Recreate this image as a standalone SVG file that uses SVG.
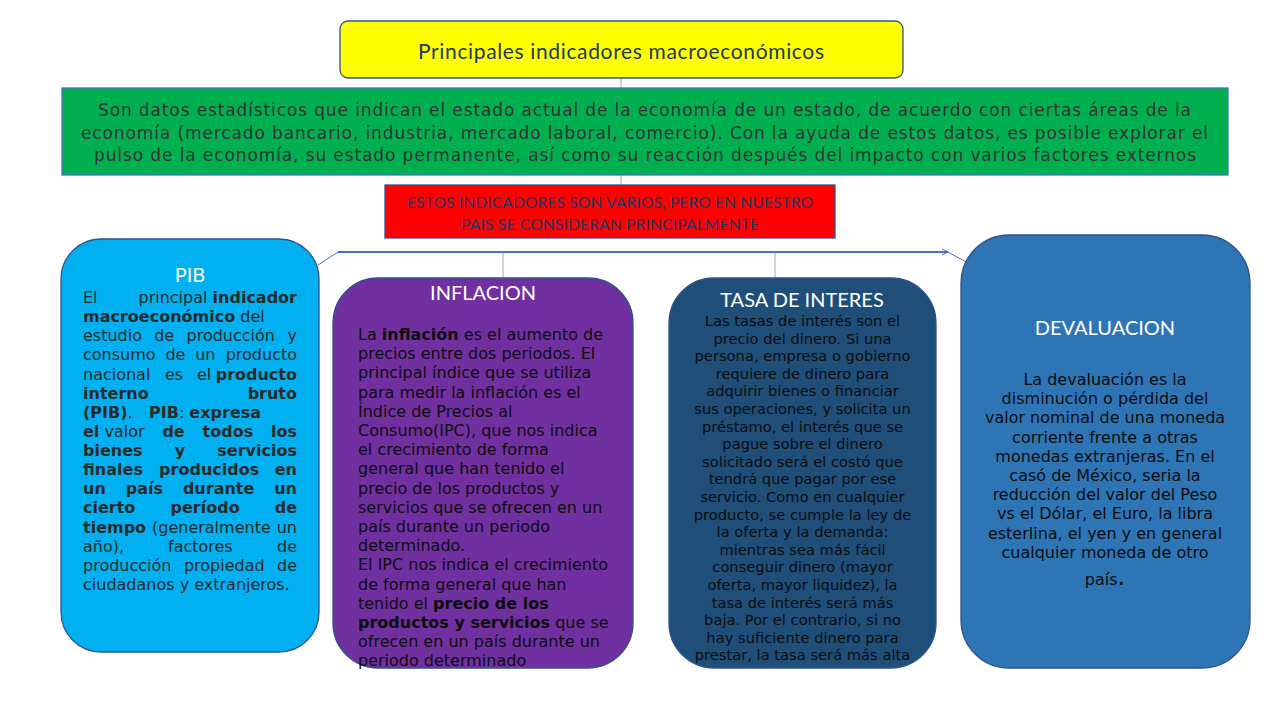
<svg xmlns="http://www.w3.org/2000/svg" width="1280" height="720" viewBox="0 0 1280 720">
<defs>
<style>
.box{stroke:#2F528F;stroke-width:1.3}
.ttl{font-family:Lato,"Liberation Sans",sans-serif;fill:#FFFFFF;font-size:20px;text-anchor:middle}
.nav{font-family:Lato,"Liberation Sans",sans-serif;fill:#203864;text-anchor:middle}
.dv{font-family:"DejaVu Sans",sans-serif;font-size:16px}
.pib{fill:#2a2a2a}
.blk{fill:#0d0d0d}
.e{text-anchor:end}
.m{text-anchor:middle}
b,.b{font-weight:bold}
.con{stroke:#4472C4;fill:none}
.thin{stroke:#9AA8C4;stroke-width:1;fill:none}
</style>
<marker id="arr" markerWidth="8" markerHeight="8" refX="6" refY="4" orient="auto" markerUnits="userSpaceOnUse">
<path d="M0,1 L6,4 L0,7" fill="none" stroke="#4472C4" stroke-width="1"/>
</marker>
</defs>
<rect width="1280" height="720" fill="#FFFFFF"/>

<g id="connectors">
<line class="thin" x1="621" y1="78" x2="621" y2="88"/>
<line class="thin" x1="621" y1="175" x2="621" y2="185"/>
<line class="con" stroke-width="2" x1="338" y1="252" x2="948" y2="252" marker-end="url(#arr)"/>
<line class="con" stroke-width="1" x1="338" y1="252" x2="318" y2="265"/>
<line class="con" stroke-width="1" x1="948" y1="252" x2="966" y2="262"/>
<line class="thin" x1="503" y1="253" x2="503" y2="278"/>
<line class="thin" x1="775" y1="253" x2="775" y2="278"/>
</g>

<g id="title">
<rect class="box" x="340" y="21" width="563" height="57" rx="8" fill="#FFFF00"/>
<text class="nav" x="621" y="59" font-size="21" textLength="406">Principales indicadores macroeconómicos</text>
</g>

<g id="definicion">
<rect x="62" y="88" width="1166" height="87" fill="#00B050" stroke="#4472C4" stroke-width="1.3"/>
<g font-family="'DejaVu Sans',sans-serif" font-size="17" fill="#333333" text-anchor="middle">
<text x="644.5" y="116" textLength="1093">Son datos estadísticos que indican el estado actual de la economía de un estado, de acuerdo con ciertas áreas de la</text>
<text x="644.5" y="139" textLength="1127">economía (mercado bancario, industria, mercado laboral, comercio). Con la ayuda de estos datos, es posible explorar el</text>
<text x="645" y="161" textLength="1102">pulso de la economía, su estado permanente, así como su reacción después del impacto con varios factores externos</text>
</g>
</g>

<g id="nota">
<rect class="box" x="385" y="185" width="450" height="53" fill="#FF0000"/>
<text class="nav" x="610" y="208" font-size="15.5" textLength="406">ESTOS INDICADORES SON VARIOS, PERO EN NUESTRO</text>
<text class="nav" x="610" y="230" font-size="15.5" textLength="298">PAIS SE CONSIDERAN PRINCIPALMENTE</text>
</g>

<g id="pib">
<rect class="box" x="61" y="239" width="258" height="413" rx="40" fill="#00B0F0"/>
<text class="ttl" x="190" y="282">PIB</text>
<g class="dv pib">
<text x="83" y="303">El</text>
<text class="e" x="297" y="303">principal <tspan class="b">indicador</tspan></text>
<text x="83" y="322.1"><tspan class="b">macroeconómico</tspan> del</text>
<text x="83" y="341.3">estudio</text><text x="154.2" y="341.3">de</text><text x="186.5" y="341.3">producción</text><text class="e" x="297" y="341.3">y</text>
<text x="83" y="360.4">consumo</text><text x="165.4" y="360.4">de</text><text x="195.2" y="360.4">un</text><text class="e" x="297" y="360.4">producto</text>
<text x="83" y="379.5">nacional</text><text x="165" y="379.5">es</text><text x="197" y="379.5">el</text><text class="e b" x="297" y="379.5">producto</text>
<text class="b" x="83" y="398.7">interno</text><text class="e b" x="297" y="398.7">bruto</text>
<text x="83" y="417.8"><tspan class="b">(PIB)</tspan>.</text><text x="149" y="417.8"><tspan class="b">PIB</tspan>: <tspan class="b">expresa</tspan></text>
<text x="83" y="436.9"><tspan class="b">el</tspan> valor</text><text class="b" x="162.4" y="436.9">de</text><text class="b" x="202.6" y="436.9">todos</text><text class="e b" x="297" y="436.9">los</text>
<text class="b" x="83" y="456">bienes</text><text class="b" x="174.8" y="456">y</text><text class="e b" x="297" y="456">servicios</text>
<text class="b" x="83" y="475.2">finales</text><text class="b" x="159.1" y="475.2">producidos</text><text class="e b" x="297" y="475.2">en</text>
<text class="b" x="83" y="494.3">un</text><text class="b" x="125.7" y="494.3">país</text><text class="b" x="182.9" y="494.3">durante</text><text class="e b" x="297" y="494.3">un</text>
<text class="b" x="83" y="513.4">cierto</text><text class="b" x="170.5" y="513.4">período</text><text class="e b" x="297" y="513.4">de</text>
<text class="b" x="83" y="532.6">tiempo</text><text x="152" y="532.6">(generalmente</text><text class="e" x="297" y="532.6">un</text>
<text x="83" y="551.7">año),</text><text x="168" y="551.7">factores</text><text class="e" x="297" y="551.7">de</text>
<text x="83" y="570.8">producción</text><text x="183.9" y="570.8">propiedad</text><text class="e" x="297" y="570.8">de</text>
<text x="83" y="590">ciudadanos y extranjeros.</text>
</g>
</g>

<g id="inflacion">
<rect class="box" x="333" y="278" width="300" height="390" rx="45" fill="#7030A0"/>
<text class="ttl" x="483" y="300">INFLACION</text>
<g class="dv blk">
<text x="358" y="340">La <tspan class="b">inflación</tspan> es el aumento de</text>
<text x="358" y="359.2">precios entre dos periodos. El</text>
<text x="358" y="378.4">principal índice que se utiliza</text>
<text x="358" y="397.6">para medir la inflación es el</text>
<text x="358" y="416.8">Índice de Precios al</text>
<text x="358" y="436">Consumo(IPC), que nos indica</text>
<text x="358" y="455.2">el crecimiento de forma</text>
<text x="358" y="474.4">general que han tenido el</text>
<text x="358" y="493.6">precio de los productos y</text>
<text x="358" y="512.8">servicios que se ofrecen en un</text>
<text x="358" y="532">país durante un periodo</text>
<text x="358" y="551.2">determinado.</text>
<text x="358" y="570.4">El IPC nos indica el crecimiento</text>
<text x="358" y="589.6">de forma general que han</text>
<text x="358" y="608.8">tenido el <tspan class="b">precio de los</tspan></text>
<text x="358" y="628"><tspan class="b">productos y servicios</tspan> que se</text>
<text x="358" y="647.2">ofrecen en un país durante un</text>
<text x="358" y="666.4">periodo determinado</text>
</g>
</g>

<g id="tasa">
<rect class="box" x="669" y="278" width="267" height="390" rx="45" fill="#1F4E79"/>
<text class="ttl" x="802" y="307">TASA DE INTERES</text>
<g font-family="'DejaVu Sans',sans-serif" font-size="14.7" fill="#0d0d0d" text-anchor="middle">
<text x="802.5" y="326">Las tasas de interés son el</text>
<text x="802.5" y="343.6">precio del dinero. Si una</text>
<text x="802.5" y="361.2">persona, empresa o gobierno</text>
<text x="802.5" y="378.8">requiere de dinero para</text>
<text x="802.5" y="396.4">adquirir bienes o financiar</text>
<text x="802.5" y="414">sus operaciones, y solicita un</text>
<text x="802.5" y="431.6">préstamo, el interés que se</text>
<text x="802.5" y="449.2">pague sobre el dinero</text>
<text x="802.5" y="466.8">solicitado será el costó que</text>
<text x="802.5" y="484.4">tendrá que pagar por ese</text>
<text x="802.5" y="502">servicio. Como en cualquier</text>
<text x="802.5" y="519.6">producto, se cumple la ley de</text>
<text x="802.5" y="537.2">la oferta y la demanda:</text>
<text x="802.5" y="554.8">mientras sea más fácil</text>
<text x="802.5" y="572.4">conseguir dinero (mayor</text>
<text x="802.5" y="590">oferta, mayor liquidez), la</text>
<text x="802.5" y="607.6">tasa de interés será más</text>
<text x="802.5" y="625.2">baja. Por el contrario, si no</text>
<text x="802.5" y="642.8">hay suficiente dinero para</text>
<text x="802.5" y="660.4">prestar, la tasa será más alta</text>
</g>
</g>

<g id="devaluacion">
<rect class="box" x="961" y="235" width="289" height="433" rx="48" fill="#2E75B6"/>
<text class="ttl" x="1105" y="335">DEVALUACION</text>
<g class="dv blk" text-anchor="middle">
<text x="1105" y="385">La devaluación es la</text>
<text x="1105" y="404.2">disminución o pérdida del</text>
<text x="1105" y="423.4">valor nominal de una moneda</text>
<text x="1105" y="442.6">corriente frente a otras</text>
<text x="1105" y="461.8">monedas extranjeras. En el</text>
<text x="1105" y="481">casó de México, seria la</text>
<text x="1105" y="500.2">reducción del valor del Peso</text>
<text x="1105" y="519.4">vs el Dólar, el Euro, la libra</text>
<text x="1105" y="538.6">esterlina, el yen y en general</text>
<text x="1105" y="557.8">cualquier moneda de otro</text>
<text x="1105" y="585">país<tspan font-size="24">.</tspan></text>
</g>
</g>
</svg>
